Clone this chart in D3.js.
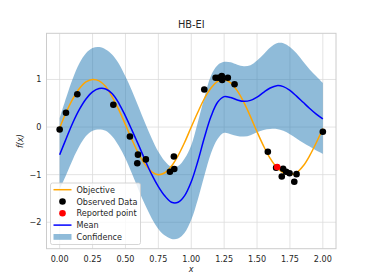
<!DOCTYPE html>
<html lang="en">
<head>
<meta charset="UTF-8">
<title>HB-EI</title>
<style>
  body { margin: 0; background: #fff; }
  svg { display: block; font-family: 'DejaVu Sans', sans-serif; }
  .tick-label { font-size: 8.1px; fill: #262626; }
  .legend-text { font-size: 8.1px; fill: #262626; }
</style>
</head>
<body>
<div id="chart"></div>
<script src="https://d3js.org/d3.v7.min.js"></script>
<script>
// sample grid for the curves
const xs = [0.00,0.05,0.10,0.15,0.20,0.25,0.30,0.35,0.40,0.45,0.50,0.55,0.60,0.65,0.70,0.75,0.80,0.85,0.90,0.95,
            1.00,1.05,1.10,1.15,1.20,1.25,1.30,1.35,1.40,1.45,1.50,1.55,1.60,1.65,1.70,1.75,1.80,1.85,1.90,1.95,2.00];

const objective = [-0.02,0.31,0.59,0.81,0.95,1.00,0.97,0.85,0.63,0.36,0.05,-0.27,-0.56,-0.79,-0.94,-1.00,-0.96,-0.82,-0.60,-0.32,
                   0.00,0.31,0.60,0.82,0.96,1.00,0.93,0.76,0.52,0.22,-0.10,-0.40,-0.66,-0.85,-0.96,-1.00,-0.96,-0.82,-0.60,-0.33,-0.03];

const mean = [-0.58,-0.24,0.09,0.37,0.59,0.74,0.81,0.80,0.70,0.50,0.23,-0.07,-0.38,-0.70,-1.00,-1.25,-1.45,-1.58,-1.58,-1.44,
              -1.15,-0.72,-0.22,0.22,0.52,0.64,0.62,0.57,0.54,0.56,0.63,0.73,0.82,0.87,0.85,0.77,0.65,0.52,0.39,0.27,0.17];

const upper = [0.18,0.62,1.02,1.34,1.55,1.66,1.68,1.63,1.52,1.33,1.06,0.76,0.42,0.08,-0.24,-0.52,-0.72,-0.84,-0.82,-0.66,
               -0.38,0.10,0.62,1.08,1.30,1.37,1.36,1.31,1.28,1.30,1.40,1.53,1.67,1.76,1.76,1.68,1.55,1.38,1.21,1.07,0.93];

const lower = [-1.30,-1.00,-0.68,-0.40,-0.19,-0.08,-0.05,-0.08,-0.20,-0.40,-0.66,-0.98,-1.32,-1.64,-1.92,-2.14,-2.28,-2.35,-2.34,-2.22,
               -1.95,-1.52,-1.02,-0.55,-0.25,-0.12,-0.15,-0.19,-0.20,-0.17,-0.11,-0.06,-0.04,-0.04,-0.08,-0.15,-0.24,-0.33,-0.41,-0.49,-0.56];

// observed points
const obsX = [0.000,0.048,0.134,0.408,0.534,0.595,0.590,0.655,0.838,0.868,0.871,
              1.099,1.185,1.207,1.232,1.235,1.278,1.329,
              1.582,1.645,1.698,1.688,1.721,1.747,1.783,1.800,2.000];
const obsY = [-0.05,0.30,0.69,0.47,-0.20,-0.58,-0.76,-0.68,-0.94,-0.62,-0.88,
              0.79,1.035,1.035,1.07,0.99,1.035,0.90,
              -0.52,-0.855,-0.875,-1.04,-0.94,-0.97,-1.15,-0.99,-0.10];

const reportedX = [1.653];
const reportedY = [-0.84];

const xTicks = [0,0.25,0.5,0.75,1,1.25,1.5,1.75,2];
const yTicks = [1,0,-1,-2];

const W = 374, H = 280;
const plot = { left: 46.5, right: 336, top: 33.3, bottom: 248.7 };

const x = d3.scaleLinear().domain([-0.1, 2.1]).range([plot.left, plot.right]);
const y = d3.scaleLinear().domain([-2.556, 1.97]).range([plot.bottom, plot.top]);

const svg = d3.select('#chart').append('svg')
  .attr('width', W).attr('height', H);

// grid
const grid = svg.append('g');
grid.selectAll('.gx').data(xTicks).enter().append('line')
  .attr('x1', d => x(d)).attr('x2', d => x(d))
  .attr('y1', plot.top).attr('y2', plot.bottom)
  .attr('stroke', '#dcdcdc').attr('stroke-width', 0.8);
grid.selectAll('.gy').data(yTicks).enter().append('line')
  .attr('y1', d => y(d)).attr('y2', d => y(d))
  .attr('x1', plot.left).attr('x2', plot.right)
  .attr('stroke', '#dcdcdc').attr('stroke-width', 0.8);

svg.append('clipPath').attr('id', 'clip')
  .append('rect').attr('x', plot.left).attr('y', plot.top)
  .attr('width', plot.right - plot.left).attr('height', plot.bottom - plot.top);

const g = svg.append('g').attr('clip-path', 'url(#clip)');

// confidence band
const area = d3.area()
  .x((d, i) => x(xs[i]))
  .y0((d, i) => y(lower[i]))
  .y1((d, i) => y(upper[i]))
  .curve(d3.curveCatmullRom);
g.append('path').datum(xs).attr('d', area)
  .attr('fill', '#1f77b4').attr('fill-opacity', 0.5);

const line = vals => d3.line()
  .x((d, i) => x(xs[i]))
  .y((d, i) => y(vals[i]))
  .curve(d3.curveCatmullRom)(xs);

g.append('path').attr('d', line(objective))
  .attr('fill', 'none').attr('stroke', '#ffa500').attr('stroke-width', 1.5);
g.append('path').attr('d', line(mean))
  .attr('fill', 'none').attr('stroke', '#0000ff').attr('stroke-width', 1.5);

g.selectAll('.obs').data(obsX).enter().append('circle')
  .attr('cx', d => x(d)).attr('cy', (d, i) => y(obsY[i]))
  .attr('r', 3.3).attr('fill', '#000');
g.selectAll('.rep').data(reportedX).enter().append('circle')
  .attr('cx', d => x(d)).attr('cy', (d, i) => y(reportedY[i]))
  .attr('r', 3.3).attr('fill', '#ff0000');

// frame
svg.append('rect')
  .attr('x', plot.left).attr('y', plot.top)
  .attr('width', plot.right - plot.left).attr('height', plot.bottom - plot.top)
  .attr('fill', 'none').attr('stroke', '#cccccc').attr('stroke-width', 1);

// tick labels
svg.selectAll('.xt').data(xTicks).enter().append('text')
  .attr('class', 'tick-label')
  .attr('x', d => x(d)).attr('y', plot.bottom + 13.5)
  .attr('text-anchor', 'middle')
  .text(d => d.toFixed(2));
svg.selectAll('.yt').data(yTicks).enter().append('text')
  .attr('class', 'tick-label')
  .attr('x', plot.left - 5).attr('y', d => y(d) + 3)
  .attr('text-anchor', 'end')
  .text(d => d < 0 ? '\u2212' + Math.abs(d) : d);

// title and axis labels
svg.append('text').attr('x', (plot.left + plot.right) / 2).attr('y', 28)
  .attr('text-anchor', 'middle').attr('font-size', 9.8).attr('fill', '#262626')
  .text('HB-EI');
svg.append('text').attr('x', (plot.left + plot.right) / 2).attr('y', 272)
  .attr('text-anchor', 'middle').attr('font-size', 8.1).attr('font-style', 'italic')
  .attr('fill', '#262626').text('x');
svg.append('text')
  .attr('transform', `translate(23,${(plot.top + plot.bottom) / 2}) rotate(-90)`)
  .attr('text-anchor', 'middle').attr('font-size', 8.1).attr('font-style', 'italic')
  .attr('fill', '#262626').text('f(x)');

// legend
const legend = svg.append('g');
legend.append('rect')
  .attr('x', 50.5).attr('y', 183).attr('width', 90).attr('height', 61.5)
  .attr('rx', 2).attr('fill', '#fff').attr('fill-opacity', 0.8)
  .attr('stroke', '#cccccc').attr('stroke-width', 0.8);
const items = ['Objective', 'Observed Data', 'Reported point', 'Mean', 'Confidence'];
const rowY = i => 189.7 + i * 11.8;
items.forEach((t, i) => {
  const cy = rowY(i);
  if (i === 0 || i === 3) {
    legend.append('line').attr('x1', 53.5).attr('x2', 71.5).attr('y1', cy).attr('y2', cy)
      .attr('stroke', i === 0 ? '#ffa500' : '#0000ff').attr('stroke-width', 1.5);
  } else if (i === 1 || i === 2) {
    legend.append('circle').attr('cx', 62.5).attr('cy', cy).attr('r', 3.3)
      .attr('fill', i === 1 ? '#000' : '#ff0000');
  } else {
    legend.append('rect').attr('x', 53.5).attr('y', cy - 2.9).attr('width', 18).attr('height', 5.8)
      .attr('fill', '#1f77b4').attr('fill-opacity', 0.5);
  }
  legend.append('text').attr('class', 'legend-text')
    .attr('x', 76.5).attr('y', cy + 3).text(t);
});
</script>
</body>
</html>
